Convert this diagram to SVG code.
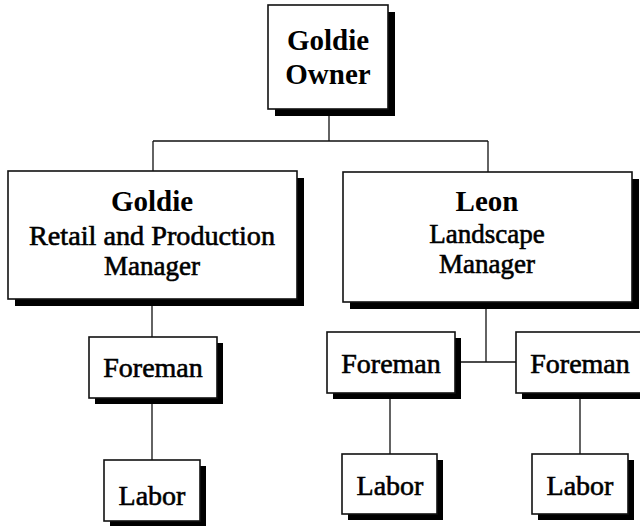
<svg xmlns="http://www.w3.org/2000/svg" width="640" height="526" viewBox="0 0 640 526">
<style>
.box{fill:#fff;stroke:#111;stroke-width:1.6}
.sh{fill:#000}
.ln{stroke:#111;stroke-width:1.3;fill:none}
text{font-family:"Liberation Serif","Times New Roman",serif;fill:#000;text-anchor:middle}
.b{font-weight:bold;font-size:29px}
.r{font-size:28px;stroke:#000;stroke-width:0.6}
.m{font-size:27px;stroke:#000;stroke-width:0.6}
</style>
<rect width="640" height="526" fill="#fff"/>
<g id="connectors">
<path class="ln" d="M329 110V141M153 141H488M153 141V171M488 141V172"/>
<path class="ln" d="M152 300V337M152 400V460"/>
<path class="ln" d="M486 304V362M455 362H516"/>
<path class="ln" d="M390 395V454M580 395V454"/>
</g>
<g id="owner">
<rect class="sh" x="275" y="12" width="120" height="104"/>
<rect class="box" x="268" y="5" width="120" height="104"/>
<text class="b" x="328" y="50">Goldie</text>
<text class="b" x="328" y="84">Owner</text>
</g>
<g id="retail-manager">
<rect class="sh" x="15" y="178" width="289" height="128"/>
<rect class="box" x="8" y="171" width="289" height="128"/>
<text class="b" x="152" y="211">Goldie</text>
<text class="m" x="152" y="245" textLength="246" lengthAdjust="spacingAndGlyphs">Retail and Production</text>
<text class="m" x="152" y="275">Manager</text>
</g>
<g id="landscape-manager">
<rect class="sh" x="350" y="179" width="289" height="130"/>
<rect class="box" x="343" y="172" width="289" height="130"/>
<text class="b" x="487" y="211">Leon</text>
<text class="m" x="487" y="243">Landscape</text>
<text class="m" x="487" y="273">Manager</text>
</g>
<g id="foreman-left">
<rect class="sh" x="95" y="343" width="128" height="61"/>
<rect class="box" x="89" y="337" width="128" height="61"/>
<text class="r" x="153" y="377">Foreman</text>
</g>
<g id="labor-left">
<rect class="sh" x="110" y="466" width="96" height="61"/>
<rect class="box" x="104" y="460" width="96" height="61"/>
<text class="r" x="152" y="505">Labor</text>
</g>
<g id="foreman-mid">
<rect class="sh" x="333" y="338" width="128" height="61"/>
<rect class="box" x="327" y="332" width="128" height="61"/>
<text class="r" x="391" y="373">Foreman</text>
</g>
<g id="labor-mid">
<rect class="sh" x="348" y="460" width="95" height="60"/>
<rect class="box" x="342" y="454" width="95" height="60"/>
<text class="r" x="390" y="495">Labor</text>
</g>
<g id="foreman-right">
<rect class="sh" x="522" y="338" width="128" height="61"/>
<rect class="box" x="516" y="332" width="128" height="61"/>
<text class="r" x="580" y="373">Foreman</text>
</g>
<g id="labor-right">
<rect class="sh" x="538" y="460" width="96" height="60"/>
<rect class="box" x="532" y="454" width="96" height="60"/>
<text class="r" x="580" y="495">Labor</text>
</g>
</svg>
